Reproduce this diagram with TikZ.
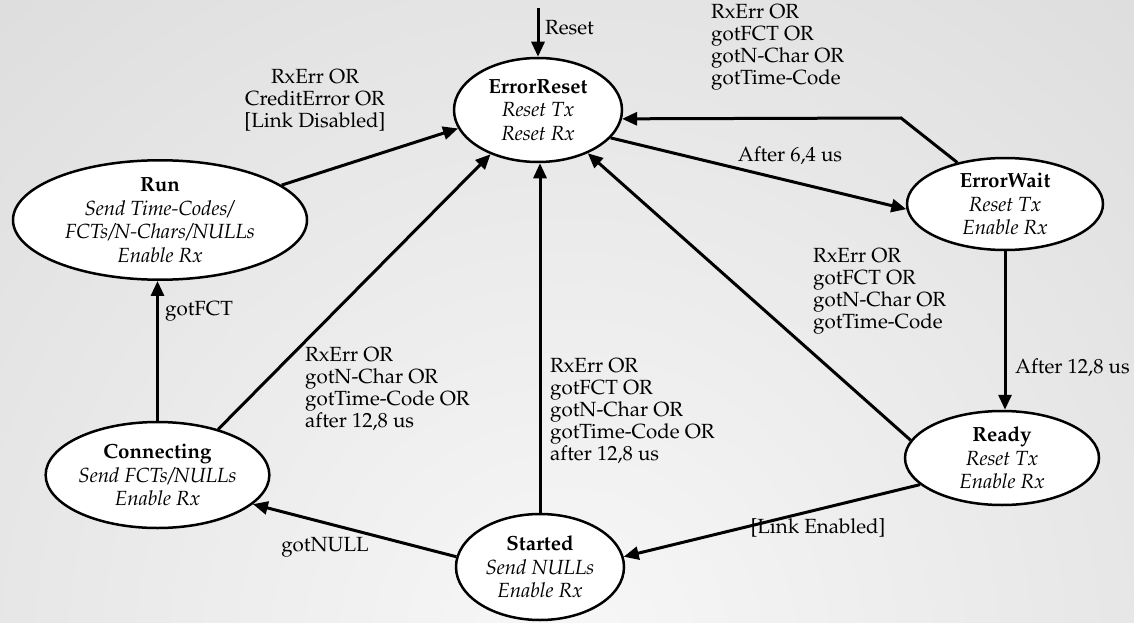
\documentclass[tikz,border=0pt]{standalone}
\usepackage[T1]{fontenc}
\usepackage{mathpazo}
\usetikzlibrary{shapes.geometric,arrows.meta}
\begin{document}
\begin{tikzpicture}[x=1pt,y=-1pt,
  st/.style={ellipse, draw, line width=2.5pt, fill=white, inner sep=0pt, align=center, font=\fontsize{20.5}{23.5}\selectfont},
  tr/.style={line width=3pt, -{Triangle[length=15pt,width=13pt]}},
  lbl/.style={align=left, anchor=west, inner sep=0pt, font=\fontsize{20.5}{22}\selectfont},
  clbl/.style={align=center, inner sep=0pt, font=\fontsize{20.5}{22}\selectfont},
]
\useasboundingbox (0,0) rectangle (1134,623);
\begin{scope}
\clip (0,0) rectangle (1134,623);
\shade[inner color=gray!6, outer color=gray!27] (567,650) circle (900);
\end{scope}

\node[st, minimum width=168pt, minimum height=104pt] (er) at (538,110)
  {\textbf{ErrorReset}\\\textit{Reset Tx}\\\textit{Reset Rx}};
\node[st, minimum width=196pt, minimum height=92pt] (ew) at (1005,204)
  {\textbf{ErrorWait}\\\textit{Reset Tx}\\\textit{Enable Rx}};
\node[st, minimum width=194pt, minimum height=94pt] (ready) at (1002,458)
  {\textbf{Ready}\\\textit{Reset Tx}\\\textit{Enable Rx}};
\node[st, minimum width=294pt, minimum height=116pt] (run) at (160,220)
  {\textbf{Run}\\\textit{Send Time-Codes/}\\\textit{FCTs/N-Chars/NULLs}\\\textit{Enable Rx}};
\node[st, minimum width=210pt, minimum height=106pt] (conn) at (157.5,475)
  {\textbf{Connecting}\\\textit{Send FCTs/NULLs}\\\textit{Enable Rx}};
\node[st, minimum width=168pt, minimum height=106pt] (started) at (540,567)
  {\textbf{Started}\\\textit{Send NULLs}\\\textit{Enable Rx}};

\coordinate (rst) at (538,8);
\coordinate (bend) at (901,118);

\draw[tr] (rst) -- (er.north);
\draw[tr] (run.16) -- (er.193);
\draw[tr] (er.339) -- (ew.183.5);
\draw[tr] (ew.139.5) -- (bend) -- (er.354.6);
\draw[tr] (ew.south) -- (ew.south |- ready.north);
\draw[tr] (ready.169.8) -- (er.319);
\draw[tr] (ready.198) -- (started.7.3);
\draw[tr] (started.north) -- (started.north |- er.south);
\draw[tr] (started.173.8) -- (conn.343);
\draw[tr] (conn.37.6) -- (er.223.8);
\draw[tr] (conn.north) -- (conn.north |- run.south);

\node[lbl] (lreset) at (545,28) {Reset};
\node[clbl] (lrun) at (315,100) {RxErr OR\\CreditError OR\\{[Link Disabled]}};
\node[lbl] (lew) at (711,47) {RxErr OR\\gotFCT OR\\gotN-Char OR\\gotTime-Code};
\node[clbl] (l64) at (790,156) {After 6,4 us};
\node[lbl] (l128) at (1015,368) {After 12,8 us};
\node[lbl] (lready) at (813,291) {RxErr OR\\gotFCT OR\\gotN-Char OR\\gotTime-Code};
\node[clbl] (lle) at (818,528) {[Link Enabled]};
\node[lbl] (lstart) at (550,411) {RxErr OR\\gotFCT OR\\gotN-Char OR\\gotTime-Code OR\\after 12,8 us};
\node[lbl] (lconn) at (305,389) {RxErr OR\\gotN-Char OR\\gotTime-Code OR\\after 12,8 us};
\node[lbl] (lfct) at (165,311) {gotFCT};
\node[clbl] (lnull) at (325,547) {gotNULL};
\end{tikzpicture}
\end{document}
